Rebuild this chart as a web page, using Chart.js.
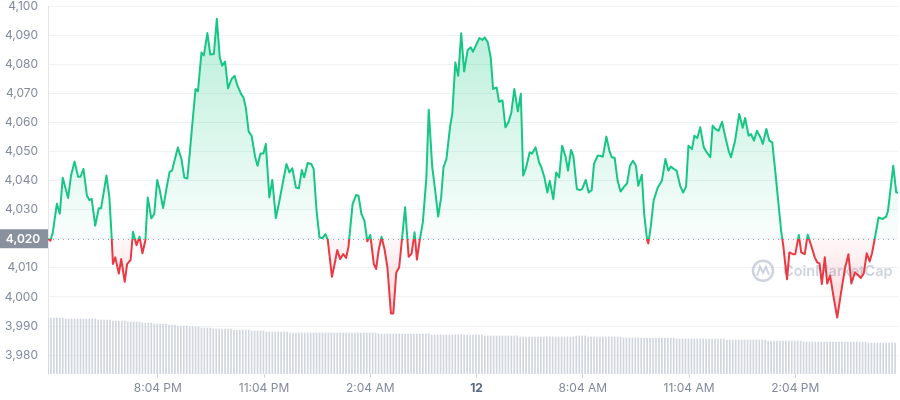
<!DOCTYPE html>
<html>
<head>
<meta charset="utf-8">
<script src="https://cdn.jsdelivr.net/npm/chart.js@4.4.1/dist/chart.umd.min.js"></script>
<style>html,body{margin:0;padding:0;background:#fff;}canvas{display:block;}</style>
</head>
<body>
<canvas id="c" width="900" height="400"></canvas>
<script>
// minutes since series start (about 4:58 PM)
const priceTimes = [
  0,4,8,15,20,25,34,39,45,51,
  55,60,66,70,74,80,86,90,99,104,
  108,110,114,120,124,130,134,140,144,150,
  155,160,165,169,175,180,185,189,195,201,
  206,210,220,226,231,236,240,244,250,254,
  260,264,270,275,281,286,291,295,300,305,
  311,316,321,327,331,335,340,345,351,355,
  360,365,369,375,380,386,391,398,404,409,
  414,420,425,430,434,440,446,450,455,460,
  465,470,474,481,485,490,495,500,505,509,
  516,522,526,531,536,541,546,552,556,560,
  565,570,575,581,585,590,595,600,605,611,
  616,621,625,630,635,641,645,651,656,661,
  666,670,675,681,685,690,695,700,705,711,
  716,720,726,731,736,740,745,750,754,760,
  764,770,775,780,785,790,796,801,805,810,
  816,820,826,832,836,841,846,850,856,861,
  866,871,877,881,886,890,896,901,905,911,
  916,921,925,931,935,940,946,951,955,960,
  965,970,976,981,986,991,996,1000,1006,1010,
  1015,1017,1021,1026,1033,1040,1046,1051,1055,1060,
  1065,1071,1076,1081,1085,1091,1095,1100,1105,1111,
  1116,1122,1126,1131,1136,1142,1147,1153,1157,1164,
  1171,1177,1181,1187,1191,1196,1201,1207,1211,1217,
  1222,1227,1232,1237,1242,1246,1249,1252,1256,1262,
  1266,1272,1276,1282,1287,1293,1299,1303,1307,1311,
  1316,1320,1325,1330,1337,1344,1350,1356,1361,1367,
  1372,1377,1382,1387,1392,1396,1400,1407,1414,1420,
  1423,1432,1437,1440
];
const prices = [
  4020.0,4019.3,4022,4032,4028.6,4041,4034,4041.7,4046.5,4041.3,
  4041.3,4044,4034.8,4033.3,4033.7,4024.5,4030.5,4030.5,4041.7,4034.2,
  4020,4011.3,4013.6,4008,4013,4005.2,4011.3,4012.7,4022.4,4017.8,
  4020.7,4015,4019.5,4034.2,4027,4028.5,4040.2,4037,4030.5,4037.6,
  4043,4043.4,4051.4,4047.4,4041,4040.7,4049,4058.3,4071.5,4070.7,
  4084,4083,4090.7,4083.3,4083.5,4095.6,4082.3,4079.5,4080.9,4071.7,
  4074.9,4076,4072.6,4069.8,4068.6,4065.2,4056.8,4055.4,4048,4045.1,
  4049.3,4049.3,4052.6,4034.2,4040.2,4027.1,4031.9,4039.4,4045.7,4042.8,
  4044.2,4037.6,4037.3,4043.6,4041.1,4046,4045.7,4044,4029.6,4020.4,
  4020.2,4021.6,4019.5,4006.9,4010.7,4016.1,4013,4014.7,4013.4,4017.2,
  4031.9,4035,4034.8,4028.5,4026.2,4019.1,4021.3,4011.3,4009.6,4015.9,
  4020.7,4016.5,4010.2,3994.3,3994.3,4008.4,4010.2,4020.5,4030.8,4013.8,
  4014.9,4022.2,4012.8,4019.9,4025.6,4041,4064.3,4044.5,4036.5,4027.6,
  4034.2,4044.5,4047.4,4058.3,4063.1,4080.6,4076,4090.6,4077.5,4084.9,
  4085.8,4084.3,4086.9,4089,4088.3,4089.2,4087.5,4082.3,4071.5,4072,
  4067.1,4067.5,4058.3,4060,4063.4,4071.5,4063.8,4069.8,4041.7,4044.5,
  4049.7,4049.3,4051.4,4046.2,4044.5,4041.1,4035.9,4039.9,4033.6,4042.8,
  4041.1,4052,4048,4043.4,4050.5,4048.5,4037.1,4036.7,4037.1,4040.2,
  4035.9,4036.7,4045.7,4048.5,4048.5,4048.2,4055.1,4050.3,4048,4047.8,
  4039.9,4036.2,4037.9,4039,4045.1,4046.8,4045.1,4038.2,4042,4028.5,
  4019.5,4018.4,4023.9,4033.1,4037.6,4039.9,4047.4,4043.4,4044.8,4044,
  4043.4,4038.2,4035.9,4037.9,4052,4050.8,4055.4,4054.6,4058.3,4051.4,
  4049.7,4048,4058.9,4057.7,4057.1,4060.2,4055.4,4050.3,4048,4053.7,
  4062.9,4058.1,4061.5,4055.4,4056,4053.7,4057.1,4054.8,4052.6,4057.7,
  4053.7,4053.1,4043.4,4033.1,4022.8,4017,4011.3,4006.1,4015.3,4014.7,
  4014.7,4021.3,4015.3,4014.7,4021.4,4017.6,4013.6,4011.9,4011.5,4004.4,
  4013.6,4004.6,4007.3,4001,3992.9,4002.1,4009.6,4014.7,4004.6,4008.4,
  4007.6,4006.5,4008.1,4015,4012.2,4015,4019.3,4027.3,4026.8,4027.6,
  4029.6,4045.1,4035.9,4035.9
];
const volumeInterval = 5; // minutes per volume bar
const volumes = [
  5.6,5.6,5.6,5.6,5.6,5.6,5.5,5.5,5.5,5.5,5.5,5.5,5.5,5.5,5.5,5.5,5.5,5.4,
  5.4,5.4,5.4,5.4,5.3,5.3,5.3,5.3,5.3,5.2,5.2,5.2,5.2,5.2,
  5.1,5.1,5.1,5.1,5.0,5.0,5.0,5.0,5.0,
  4.9,4.9,4.9,4.8,4.8,4.8,4.8,4.7,4.7,4.7,4.7,
  4.6,4.6,4.6,4.6,4.5,4.5,4.5,4.5,4.5,4.5,4.5,
  4.4,4.4,4.4,4.4,4.4,4.4,4.3,4.3,4.3,4.3,
  4.3,4.2,4.2,4.2,4.2,4.2,4.2,4.2,4.2,4.1,4.1,4.1,4.1,
  4.1,4.1,4.1,4.1,4.1,4.1,4.1,4.1,4.1,4.1,4.1,4.1,4.1,4.1,4.1,4.1,4.1,4.1,4.1,4.1,4.1,4.1,4.1,
  4.1,4.1,4.1,4.0,4.0,4.0,4.0,4.0,4.0,4.0,4.0,
  4.0,4.0,4.0,4.0,4.0,4.0,4.0,4.0,4.0,4.0,3.9,3.9,3.9,3.9,3.9,3.9,3.9,3.9,3.9,3.9,3.9,3.9,3.9,3.9,3.9,
  3.9,3.9,3.9,
  3.8,3.8,3.8,3.8,3.8,3.8,3.8,3.8,3.8,3.8,3.8,3.8,3.7,3.7,3.7,3.7,3.7,3.7,3.7,3.7,3.7,3.7,3.7,
  3.7,3.7,3.7,3.7,3.7,3.7,3.7,3.7,3.8,3.8,3.8,3.8,3.7,3.7,
  3.7,3.7,3.7,3.7,3.7,3.7,3.7,3.7,3.7,3.7,3.6,3.6,3.6,3.6,3.6,3.6,3.6,3.6,3.6,3.6,
  3.6,3.6,3.6,3.6,3.6,3.6,3.6,3.6,3.5,3.5,3.5,3.5,3.5,3.5,3.5,3.5,3.5,
  3.5,3.5,3.5,3.5,3.5,3.5,3.5,3.5,3.4,3.4,3.4,3.4,3.4,3.4,3.4,3.4,
  3.4,3.4,3.4,3.4,3.4,3.4,3.3,3.3,3.3,3.3,3.3,3.3,
  3.3,3.3,3.3,3.3,3.3,3.3,3.2,3.2,3.2,3.2,3.2,
  3.2,3.2,3.2,3.2,3.2,3.2,3.2,3.2,3.2,3.2,3.2,
  3.2,3.2,3.2,3.2,3.2,3.2,3.1,3.1,3.1,3.1,3.1,3.1,3.1,3.1,3.1,3.1
];
const baselinePrice = 4020;
const yTickValues = [3980,3990,4000,4010,4020,4030,4040,4050,4060,4070,4080,4090,4100];
const xTickMinutes = [186,366,546,726,906,1086,1266];
const xTickLabels = ['8:04 PM','11:04 PM','2:04 AM','12','8:04 AM','11:04 AM','2:04 PM'];
const boldTickLabel = '12';

const GREEN = '#16c784', RED = '#ea3943';
Chart.defaults.font.family = 'Inter, "Noto Sans", sans-serif';

function baselineFrac(chart) {
  const a = chart.chartArea, y = chart.scales.y;
  if (!a || !y) return null;
  const py = y.getPixelForValue(baselinePrice);
  return Math.min(1, Math.max(0, (py - a.top) / (a.bottom - a.top)));
}
function lineColor(ctx) {
  const chart = ctx.chart; const f = baselineFrac(chart);
  if (f === null) return GREEN;
  const a = chart.chartArea;
  const g = chart.ctx.createLinearGradient(0, a.top, 0, a.bottom);
  g.addColorStop(0, GREEN); g.addColorStop(f, GREEN);
  g.addColorStop(f, RED); g.addColorStop(1, RED);
  return g;
}
function fillColor(ctx) {
  const chart = ctx.chart; const f = baselineFrac(chart);
  if (f === null) return 'rgba(22,199,132,0.15)';
  const a = chart.chartArea;
  const g = chart.ctx.createLinearGradient(0, a.top, 0, a.bottom);
  g.addColorStop(0, 'rgba(22,199,132,0.32)');
  g.addColorStop(f, 'rgba(22,199,132,0.02)');
  g.addColorStop(f, 'rgba(234,57,67,0.04)');
  g.addColorStop(1, 'rgba(234,57,67,0.32)');
  return g;
}

const decorPlugin = {
  id: 'decor',
  beforeDatasetsDraw(chart) {
    const {ctx, chartArea: a, scales: {y}} = chart;
    // watermark
    ctx.save();
    const cx = a.right - 135, cy = y.getPixelForValue(4009);
    ctx.strokeStyle = 'rgba(165,176,196,0.55)';
    ctx.fillStyle = 'rgba(165,176,196,0.55)';
    ctx.lineWidth = 2.5;
    ctx.beginPath(); ctx.arc(cx, cy, 10, 0, Math.PI * 2); ctx.stroke();
    ctx.lineWidth = 2;
    ctx.beginPath();
    ctx.moveTo(cx - 6, cy + 5); ctx.lineTo(cx - 3, cy - 4); ctx.lineTo(cx, cy + 2);
    ctx.lineTo(cx + 3, cy - 4); ctx.lineTo(cx + 6, cy + 4);
    ctx.stroke();
    ctx.font = '600 14.5px Inter, sans-serif';
    ctx.textBaseline = 'middle'; ctx.textAlign = 'left';
    ctx.fillText('CoinMarketCap', cx + 20, cy + 1);
    // baseline dotted line
    const py = Math.round(y.getPixelForValue(baselinePrice)) + 0.5;
    ctx.strokeStyle = '#9aa1ad'; ctx.lineWidth = 1; ctx.setLineDash([1, 4]);
    ctx.beginPath(); ctx.moveTo(a.left, py); ctx.lineTo(a.right, py); ctx.stroke();
    ctx.restore();
  },
  afterDraw(chart) {
    const {ctx, chartArea: a, scales: {y}} = chart;
    const py = y.getPixelForValue(baselinePrice);
    ctx.save();
    ctx.fillStyle = '#8a919e';
    ctx.fillRect(0, py - 9.5, a.left, 19);
    ctx.fillStyle = '#ffffff';
    ctx.font = '600 12px Inter, sans-serif';
    ctx.textAlign = 'center'; ctx.textBaseline = 'middle';
    ctx.fillText(baselinePrice.toLocaleString('en-US'), a.left / 2 - 1, py + 0.5);
    ctx.restore();
  }
};

new Chart(document.getElementById('c'), {
  type: 'line',
  data: {
    datasets: [
      {
        label: 'Price',
        data: priceTimes.map((t, i) => ({x: t, y: prices[i]})),
        yAxisID: 'y',
        borderColor: lineColor,
        backgroundColor: fillColor,
        fill: {target: {value: baselinePrice}},
        borderWidth: 2,
        pointRadius: 0,
        tension: 0,
        borderJoinStyle: 'round',
        order: 0
      },
      {
        type: 'bar',
        label: 'Volume',
        data: volumes.map((v, i) => ({x: i * volumeInterval, y: v})),
        yAxisID: 'yVol',
        backgroundColor: '#d0d5de',
        barThickness: 1,
        grouped: false,
        order: 1
      }
    ]
  },
  options: {
    responsive: false,
    animation: false,
    devicePixelRatio: 1,
    layout: {padding: {top: 0, right: 2, left: 0, bottom: 0}},
    plugins: {legend: {display: false}, tooltip: {enabled: false}},
    scales: {
      x: {
        type: 'linear',
        offset: false,
        min: 0, max: 1440,
        grid: {display: true, drawOnChartArea: false, drawTicks: true, tickLength: 4, color: '#cfd5de', offset: false},
        border: {display: false},
        afterBuildTicks(scale) { scale.ticks = xTickMinutes.map(v => ({value: v})); },
        afterFit(scale) { scale.height = 26; },
        ticks: {
          autoSkip: false, maxRotation: 0, padding: 3,
          callback: (v, i) => xTickLabels[i],
          color: (c) => xTickLabels[c.index] === boldTickLabel ? '#58667e' : '#808a9d',
          font: (c) => ({size: 12, weight: xTickLabels[c.index] === boldTickLabel ? '700' : '400'})
        }
      },
      y: {
        type: 'linear',
        position: 'left',
        min: 3973.5, max: 4100,
        grid: {color: '#eff2f5', drawTicks: false},
        border: {display: true, color: '#e3e7ec'},
        afterBuildTicks(scale) { scale.ticks = yTickValues.map(v => ({value: v})); },
        afterFit(scale) { scale.width = 48; scale.paddingTop = 6; scale.paddingBottom = 0; },
        ticks: {
          padding: 10,
          color: '#808a9d',
          font: {size: 12},
          callback: (v) => Number(v).toLocaleString('en-US')
        }
      },
      yVol: {
        type: 'linear',
        display: false,
        min: 0, max: 36.8
      }
    }
  },
  plugins: [decorPlugin]
});
</script>
</body>
</html>
